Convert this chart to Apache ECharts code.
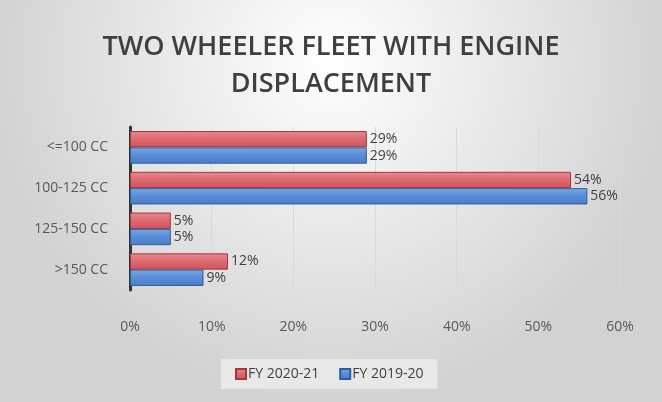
<!DOCTYPE html>
<html><head><meta charset="utf-8">
<script src="https://cdn.jsdelivr.net/npm/echarts@6/dist/echarts.min.js"></script>
<style>html,body{margin:0;padding:0;background:#fff}#c{width:662px;height:402px}</style>
</head><body><div id="c"></div>
<script>
var categories = ['<=100 CC', '100-125 CC', '125-150 CC', '>150 CC'];
var fy2021 = [29, 54, 5, 12];
var fy1920 = [29, 56, 5, 9];
var xTicks = [0, 10, 20, 30, 40, 50, 60];
var seriesNames = ['FY 2020-21', 'FY 2019-20'];

var chart = echarts.init(document.getElementById('c'));
function grad(top, mid, bot) {
  return new echarts.graphic.LinearGradient(0, 0, 0, 1, [
    {offset: 0, color: top}, {offset: 0.45, color: mid}, {offset: 1, color: bot}]);
}
chart.setOption({
  backgroundColor: {
    type: 'radial', x: 0.5, y: 0.15, r: 0.85,
    colorStops: [{offset: 0, color: '#ffffff'}, {offset: 1, color: '#d2d2d2'}]
  },
  title: {
    text: 'TWO WHEELER FLEET WITH ENGINE\nDISPLACEMENT',
    left: 'center', top: 24,
    textStyle: {fontFamily: 'Open Sans', fontSize: 27, fontWeight: 600, color: '#3f3f3f', lineHeight: 37}
  },
  legend: {
    data: seriesNames,
    left: 221, top: 359,
    padding: [8, 14],
    backgroundColor: '#e8e8e8',
    itemWidth: 10, itemHeight: 10, itemGap: 20,
    icon: 'rect',
    textStyle: {fontFamily: 'Open Sans', fontSize: 14, color: '#404040', padding: [0, 0, 0, -3]}
  },
  grid: {left: 130, right: 42, top: 127, height: 163},
  xAxis: {
    type: 'value', min: xTicks[0], max: xTicks[xTicks.length - 1], interval: 10,
    axisLine: {show: false}, axisTick: {show: false},
    axisLabel: {formatter: '{value}%', margin: 30, fontFamily: 'Open Sans', fontSize: 14, color: '#595959'},
    splitLine: {lineStyle: {color: '#d9d9d9', width: 1}}
  },
  yAxis: {
    type: 'category', data: categories, inverse: true,
    axisLine: {lineStyle: {color: '#333333', width: 3}},
    axisTick: {show: false},
    axisLabel: {margin: 22, fontFamily: 'Open Sans', fontSize: 14, color: '#595959'}
  },
  series: [
    {
      name: seriesNames[0], type: 'bar', data: fy2021, barGap: '0%', barCategoryGap: '20%',
      itemStyle: {color: grad('#ea8a90', '#df6b72', '#cf535b'), borderColor: '#a8343c', borderWidth: 1},
      label: {show: true, position: 'right', formatter: '{c}%', distance: 3, fontFamily: 'Open Sans', fontSize: 14, color: '#404040'}
    },
    {
      name: seriesNames[1], type: 'bar', data: fy1920,
      itemStyle: {color: grad('#7aa8e6', '#5a8fd8', '#4a7cc8'), borderColor: '#2f5c9c', borderWidth: 1},
      label: {show: true, position: 'right', formatter: '{c}%', distance: 3, fontFamily: 'Open Sans', fontSize: 14, color: '#404040'}
    }
  ]
});
</script></body></html>
